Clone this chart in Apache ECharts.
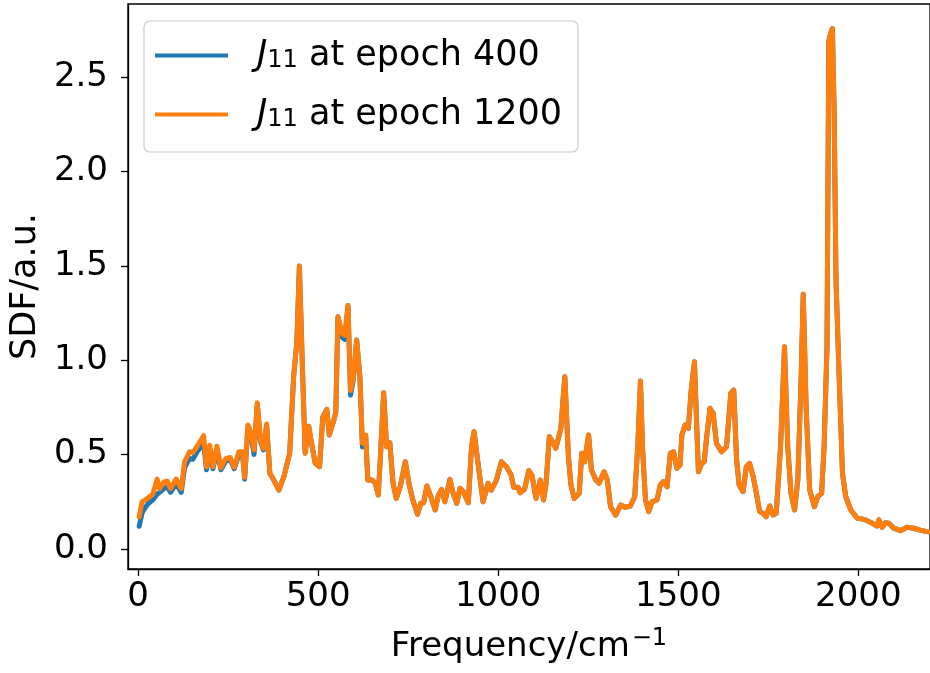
<!DOCTYPE html>
<html>
<head>
<meta charset="utf-8">
<script src="https://cdn.jsdelivr.net/npm/echarts@6/dist/echarts.min.js"></script>
<style>
  html, body { margin: 0; padding: 0; background: #fff; }
  #chart { width: 930px; height: 673px; }
</style>
</head>
<body>
<div id="chart"></div>
<script>
// frequencies (cm^-1)
const freq = [3, 11, 20, 28, 41, 53, 60, 72, 81, 90, 106, 120, 129, 143, 152, 166, 182, 190, 199, 208,
  219, 230, 244, 256, 267, 280, 290, 296, 305, 314, 322, 331, 340, 348, 357, 366, 377, 391, 405, 421,
  432, 441, 448, 455, 464, 474, 480, 492, 504, 513, 524, 531, 540, 549, 555, 567, 574, 583, 590, 598,
  607, 616, 623, 632, 638, 650, 659, 667, 673, 682, 690, 699, 708, 717, 728, 742, 753, 763, 776, 785,
  793, 802, 813, 825, 834, 843, 852, 866, 875, 885, 894, 903, 917, 926, 933, 944, 958, 972, 981, 995,
  1009, 1023, 1036, 1043, 1055, 1061, 1073, 1085, 1094, 1105, 1117, 1126, 1133, 1142, 1151, 1160, 1174, 1185, 1195, 1202,
  1211, 1225, 1232, 1240, 1251, 1259, 1271, 1280, 1294, 1303, 1312, 1326, 1340, 1352, 1367, 1379, 1388, 1395, 1401, 1409,
  1418, 1427, 1441, 1450, 1459, 1469, 1478, 1487, 1496, 1505, 1510, 1519, 1528, 1536, 1545, 1551, 1556, 1565, 1572, 1579,
  1588, 1597, 1606, 1620, 1634, 1646, 1654, 1662, 1669, 1680, 1689, 1698, 1708, 1717, 1726, 1735, 1744, 1754, 1763, 1772,
  1784, 1795, 1804, 1813, 1823, 1832, 1841, 1847, 1855, 1865, 1878, 1887, 1898, 1905, 1913, 1918, 1923, 1928, 1933, 1938,
  1947, 1956, 1965, 1979, 1997, 2016, 2039, 2052, 2057, 2066, 2075, 2085, 2098, 2117, 2135, 2154, 2172, 2190, 2200];

// J11 at epoch 400
const epoch400 = [0.12, 0.19, 0.22, 0.24, 0.26, 0.29, 0.30, 0.32, 0.33, 0.30, 0.345, 0.30, 0.43, 0.48, 0.475, 0.52, 0.56, 0.42, 0.52, 0.425,
  0.52, 0.42, 0.465, 0.475, 0.425, 0.50, 0.50, 0.37, 0.64, 0.60, 0.50, 0.765, 0.57, 0.525, 0.655, 0.40, 0.365, 0.312, 0.383, 0.507,
  0.913, 1.10, 1.499, 1.05, 0.507, 0.65, 0.577, 0.454, 0.436, 0.70, 0.74, 0.604, 0.66, 0.72, 1.23, 1.12, 1.11, 1.29, 0.815, 0.90,
  1.107, 0.913, 0.54, 0.60, 0.365, 0.365, 0.348, 0.286, 0.489, 0.828, 0.542, 0.563, 0.348, 0.268, 0.33, 0.462, 0.339, 0.26, 0.184, 0.242,
  0.245, 0.334, 0.277, 0.207, 0.286, 0.316, 0.25, 0.369, 0.295, 0.242, 0.321, 0.304, 0.245, 0.542, 0.621, 0.454, 0.25, 0.348, 0.312, 0.365,
  0.462, 0.436, 0.392, 0.327, 0.327, 0.298, 0.316, 0.415, 0.39, 0.268, 0.365, 0.26, 0.348, 0.595, 0.568, 0.533, 0.639, 0.913, 0.489, 0.339,
  0.268, 0.295, 0.507, 0.462, 0.604, 0.418, 0.365, 0.348, 0.409, 0.365, 0.224, 0.18, 0.233, 0.221, 0.228, 0.277, 0.56, 0.89, 0.524, 0.26,
  0.198, 0.25, 0.26, 0.339, 0.357, 0.33, 0.507, 0.515, 0.427, 0.445, 0.604, 0.657, 0.639, 0.842, 0.992, 0.666, 0.409, 0.454, 0.462, 0.595,
  0.745, 0.718, 0.56, 0.515, 0.542, 0.825, 0.842, 0.471, 0.339, 0.304, 0.436, 0.454, 0.383, 0.295, 0.198, 0.189, 0.171, 0.228, 0.18, 0.189,
  0.542, 1.071, 0.542, 0.295, 0.207, 0.365, 0.895, 1.35, 0.754, 0.312, 0.224, 0.277, 0.295, 0.542, 1.07, 2.69, 2.73, 2.757, 2.3, 1.42,
  0.895, 0.40, 0.277, 0.207, 0.163, 0.157, 0.136, 0.122, 0.154, 0.115, 0.139, 0.136, 0.11, 0.097, 0.115, 0.11, 0.10, 0.092, 0.09];

// J11 at epoch 1200
const epoch1200 = [0.17, 0.25, 0.26, 0.27, 0.29, 0.37, 0.32, 0.355, 0.36, 0.32, 0.37, 0.32, 0.46, 0.515, 0.51, 0.55, 0.60, 0.436, 0.55, 0.436,
  0.545, 0.43, 0.48, 0.485, 0.433, 0.515, 0.515, 0.38, 0.657, 0.614, 0.524, 0.775, 0.577, 0.533, 0.662, 0.40, 0.365, 0.312, 0.383, 0.507,
  0.913, 1.10, 1.499, 1.05, 0.507, 0.65, 0.577, 0.454, 0.436, 0.70, 0.74, 0.604, 0.66, 0.72, 1.23, 1.142, 1.133, 1.29, 0.84, 0.913,
  1.107, 0.913, 0.56, 0.604, 0.365, 0.365, 0.348, 0.286, 0.489, 0.828, 0.542, 0.563, 0.348, 0.268, 0.33, 0.462, 0.339, 0.26, 0.184, 0.242,
  0.245, 0.334, 0.277, 0.207, 0.286, 0.316, 0.25, 0.369, 0.295, 0.242, 0.321, 0.304, 0.245, 0.542, 0.621, 0.454, 0.25, 0.348, 0.312, 0.365,
  0.462, 0.436, 0.392, 0.327, 0.327, 0.298, 0.316, 0.415, 0.39, 0.268, 0.365, 0.26, 0.348, 0.595, 0.568, 0.533, 0.639, 0.913, 0.489, 0.339,
  0.268, 0.295, 0.507, 0.462, 0.604, 0.418, 0.365, 0.348, 0.409, 0.365, 0.224, 0.18, 0.233, 0.221, 0.228, 0.277, 0.56, 0.89, 0.524, 0.26,
  0.198, 0.25, 0.26, 0.339, 0.357, 0.33, 0.507, 0.515, 0.427, 0.445, 0.604, 0.657, 0.639, 0.842, 0.992, 0.666, 0.409, 0.454, 0.462, 0.595,
  0.745, 0.718, 0.56, 0.515, 0.542, 0.825, 0.842, 0.471, 0.339, 0.304, 0.436, 0.454, 0.383, 0.295, 0.198, 0.189, 0.171, 0.228, 0.18, 0.189,
  0.542, 1.071, 0.542, 0.295, 0.207, 0.365, 0.895, 1.35, 0.754, 0.312, 0.224, 0.277, 0.295, 0.542, 1.07, 2.69, 2.73, 2.757, 2.3, 1.42,
  0.895, 0.40, 0.277, 0.207, 0.163, 0.157, 0.136, 0.122, 0.154, 0.115, 0.139, 0.136, 0.11, 0.097, 0.115, 0.11, 0.10, 0.092, 0.09];

const xTicks = [0, 500, 1000, 1500, 2000];
const yTicks = [0, 0.5, 1.0, 1.5, 2.0, 2.5];
const seriesNames = ['J11 at epoch 400', 'J11 at epoch 1200'];

const FONT = 'DejaVu Sans';
const pair = (xs, ys) => xs.map((x, i) => [x, ys[i]]);

const chart = echarts.init(document.getElementById('chart'), null, { renderer: 'canvas' });

const options = {
  animation: false,
  backgroundColor: '#fff',
  textStyle: { fontFamily: FONT },
  grid: {
    left: 126, top: 4, right: -3, bottom: 104,
    show: true, borderColor: '#000', borderWidth: 1.3
  },
  legend: {
    orient: 'vertical',
    left: 144, top: 21,
    data: seriesNames,
    icon: 'rect',
    itemWidth: 73, itemHeight: 4,
    itemGap: 24,
    padding: [17, 16, 20, 11],
    borderColor: '#cccccc', borderWidth: 1.2, borderRadius: 6,
    backgroundColor: 'rgba(255,255,255,0.8)',
    formatter: name => {
      const rest = name.replace('J11', '');
      return '{j|J}{sub|11}{t|' + rest + '}';
    },
    textStyle: {
      color: '#000',
      fontFamily: FONT,
      fontSize: 35,
      rich: {
        j: { fontSize: 35, fontStyle: 'italic', fontFamily: FONT, padding: [0, 0, 0, 24] },
        sub: { fontSize: 24, fontFamily: FONT, padding: [11, 0, 0, 0] },
        t: { fontSize: 35, fontFamily: FONT }
      }
    }
  },
  xAxis: {
    type: 'value',
    min: -28, max: 2199,
    name: '{a|Frequency/cm}{s|−1}',
    nameLocation: 'middle',
    nameGap: 58,
    nameTextStyle: {
      color: '#000', fontFamily: FONT, fontSize: 34,
      rich: {
        a: { fontSize: 34, fontFamily: FONT, color: '#000' },
        s: { fontSize: 24, fontFamily: FONT, color: '#000', padding: [0, 0, 16, 2] }
      }
    },
    splitLine: { show: false },
    axisLine: { show: true, onZero: false, lineStyle: { color: '#000', width: 1.3 } },
    axisTick: { show: true, customValues: xTicks, length: 7, lineStyle: { color: '#000', width: 1.3 } },
    axisLabel: {
      customValues: xTicks,
      color: '#000', fontFamily: FONT, fontSize: 34, margin: 11,
      formatter: v => String(v)
    }
  },
  yAxis: {
    type: 'value',
    min: -0.106, max: 2.887,
    name: 'SDF/a.u.',
    nameLocation: 'middle',
    nameGap: 84,
    nameRotate: 90,
    nameTextStyle: { color: '#000', fontFamily: FONT, fontSize: 35 },
    splitLine: { show: false },
    axisLine: { show: true, onZero: false, lineStyle: { color: '#000', width: 1.3 } },
    axisTick: { show: true, customValues: yTicks, length: 7, lineStyle: { color: '#000', width: 1.3 } },
    axisLabel: {
      customValues: yTicks,
      color: '#000', fontFamily: FONT, fontSize: 34, margin: 20,
      formatter: v => v.toFixed(1)
    }
  },
  series: [
    {
      name: seriesNames[0],
      type: 'line',
      data: pair(freq, epoch400),
      showSymbol: false,
      symbol: 'none',
      lineStyle: { color: '#1f77b4', width: 5, join: 'round', cap: 'round' },
      itemStyle: { color: '#1f77b4' },
      z: 2
    },
    {
      name: seriesNames[1],
      type: 'line',
      data: pair(freq, epoch1200),
      showSymbol: false,
      symbol: 'none',
      lineStyle: { color: '#ff7f0e', width: 5, join: 'round', cap: 'round' },
      itemStyle: { color: '#ff7f0e' },
      z: 3
    }
  ]
};

chart.setOption(options);
</script>
</body>
</html>
